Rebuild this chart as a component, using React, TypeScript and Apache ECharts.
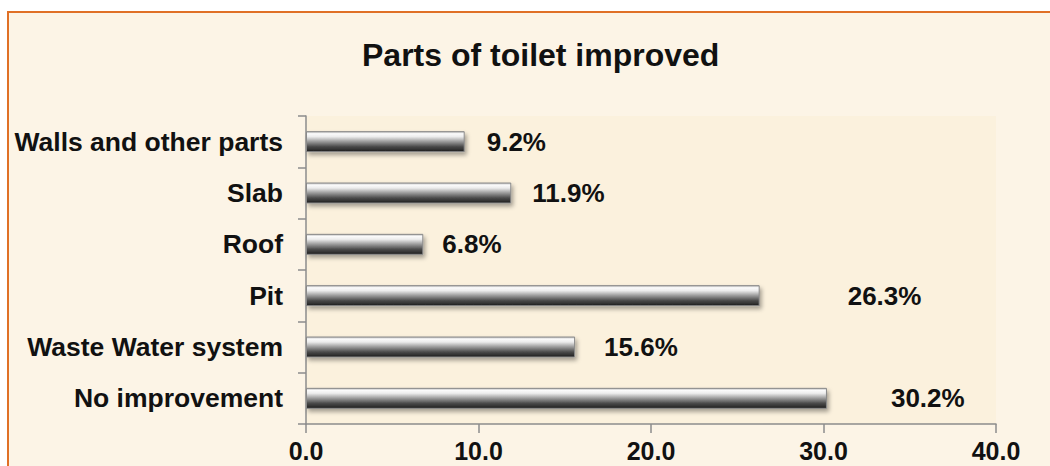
import React, { useEffect, useRef } from "react";
import * as echarts from "echarts";

const categories = [
  "Walls and other parts",
  "Slab",
  "Roof",
  "Pit",
  "Waste Water system",
  "No improvement",
];
const values = [9.2, 11.9, 6.8, 26.3, 15.6, 30.2];
const labelGaps = [22, 21, 19, 88, 29, 64];
const xTicks = { min: 0, max: 40, interval: 10 };
const titleText = "Parts of toilet improved";

export default function App() {
  const ref = useRef<HTMLDivElement>(null);
  useEffect(() => {
    if (!ref.current) return;
    const chart = echarts.init(ref.current, null, { renderer: "svg" });
    const font = "'Liberation Sans', Arial, sans-serif";
    const barColor = new echarts.graphic.LinearGradient(0, 0, 0, 1, [
      { offset: 0, color: "#b4b4b4" },
      { offset: 0.1, color: "#fbfbfb" },
      { offset: 0.25, color: "#ececec" },
      { offset: 0.5, color: "#999999" },
      { offset: 0.75, color: "#4a4a4a" },
      { offset: 1, color: "#1e1e1e" },
    ]);
    chart.setOption({
      animation: false,
      backgroundColor: "#ffffff",
      graphic: [
        {
          type: "rect",
          shape: { x: 8, y: 12, width: 1100, height: 500 },
          style: { fill: "#fcf4e6", stroke: "#e07026", lineWidth: 2 },
          z: -10,
        },
        {
          type: "rect",
          shape: { x: 306, y: 116, width: 690, height: 308 },
          style: { fill: "#fbf1dd" },
          z: -9,
        },
      ],
      title: {
        text: titleText,
        left: 357,
        top: 34,
        textStyle: { fontFamily: font, fontSize: 32, fontWeight: "bold", color: "#111" },
      },
      grid: { left: 306, right: 54, top: 116, bottom: 42 },
      xAxis: {
        type: "value",
        min: xTicks.min,
        max: xTicks.max,
        interval: xTicks.interval,
        splitLine: { show: false },
        axisLine: { show: true, lineStyle: { color: "#8c8c8c", width: 1.5 } },
        axisTick: { show: true, length: 9, lineStyle: { color: "#8c8c8c", width: 1.5 } },
        axisLabel: {
          margin: 14,
          fontFamily: font,
          fontSize: 25,
          fontWeight: "bold",
          color: "#111",
          formatter: (v: number) => v.toFixed(1),
        },
      },
      yAxis: {
        type: "category",
        data: categories,
        inverse: true,
        axisLine: { show: true, lineStyle: { color: "#8c8c8c", width: 1.5 } },
        axisTick: { show: true, length: 8, lineStyle: { color: "#8c8c8c", width: 1.5 } },
        axisLabel: {
          margin: 23,
          fontFamily: font,
          fontSize: 26.5,
          fontWeight: "bold",
          color: "#111",
        },
      },
      series: [
        {
          type: "bar",
          barWidth: 21,
          data: values.map((v, i) => ({
            value: v,
            label: { distance: labelGaps[i] },
          })),
          itemStyle: {
            color: barColor,
            borderColor: "#8a8a8a",
            borderWidth: 1,
            shadowColor: "rgba(0,0,0,0.35)",
            shadowBlur: 4,
            shadowOffsetX: 2,
            shadowOffsetY: 3,
          },
          label: {
            show: true,
            position: "right",
            fontFamily: font,
            fontSize: 26,
            fontWeight: "bold",
            color: "#111",
            formatter: (p: any) => p.value.toFixed(1) + "%",
          },
        },
      ],
    });
    return () => chart.dispose();
  }, []);
  return (
    <div
      ref={ref}
      style={{ position: "fixed", left: 0, top: 0, width: 1050, height: 466 }}
    />
  );
}
